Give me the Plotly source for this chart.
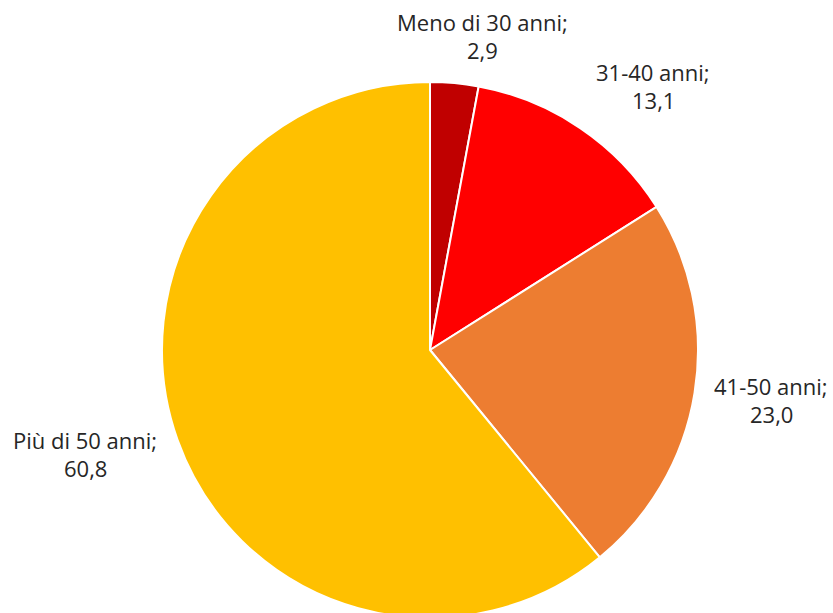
import plotly.graph_objects as go

# Age groups and their shares (%)
categories = ["Meno di 30 anni", "31-40 anni", "41-50 anni", "Più di 50 anni"]
values = [2.9, 13.1, 23.0, 60.8]
colors = ["#C00000", "#FF0000", "#ED7D31", "#FFC000"]

# Label anchor points in pixels (x, y) for each slice label
label_px = [(482, 36), (653, 86), (771, 400), (85, 454)]

W, H = 833, 625
cx, cy, r = 430, 350, 268

fig = go.Figure(
    go.Pie(
        labels=categories,
        values=values,
        sort=False,
        direction="clockwise",
        rotation=0,
        marker=dict(colors=colors, line=dict(color="white", width=2)),
        textinfo="none",
        hoverinfo="label+value",
        domain=dict(
            x=[(cx - r) / W, (cx + r) / W],
            y=[1 - (cy + r) / H, 1 - (cy - r) / H],
        ),
        showlegend=False,
    )
)

line_gap = 28
for cat, val, (lx, ly) in zip(categories, values, label_px):
    lines = [f"{cat};", f"{val:.1f}".replace(".", ",")]
    for i, txt in enumerate(lines):
        fig.add_annotation(
            x=lx / W,
            y=1 - (ly + (i - 0.5) * line_gap) / H,
            xref="paper",
            yref="paper",
            text=txt,
            showarrow=False,
            xanchor="center",
            yanchor="middle",
            font=dict(family="Open Sans", size=22, color="#262626"),
        )

fig.update_layout(
    width=W,
    height=H,
    margin=dict(l=0, r=0, t=0, b=0),
    paper_bgcolor="white",
    plot_bgcolor="white",
)

fig.write_html(
    "out.html",
    post_script="document.body.style.overflow='hidden';document.body.style.margin='0';",
)
